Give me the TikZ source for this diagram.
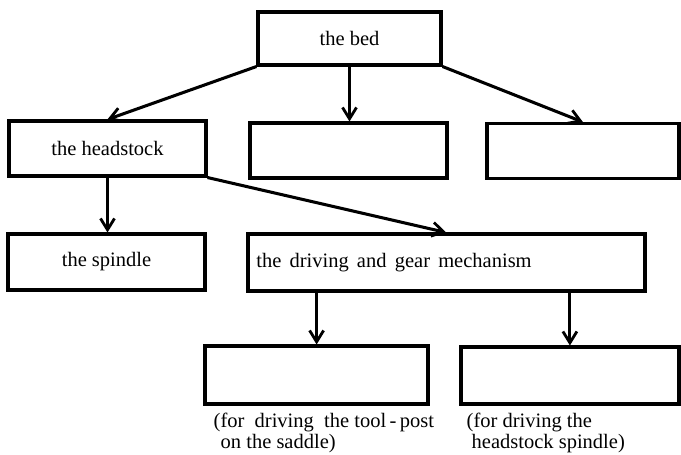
\documentclass[tikz,border=0pt]{standalone}
\usepackage{fontspec}
\setmainfont{Liberation Serif}
\usetikzlibrary{arrows.meta, positioning, calc}

\begin{document}
\begin{tikzpicture}[
  x=0.03cm, y=-0.03cm,
  box/.style={rectangle, draw, line width=2.6pt, minimum height=1.65cm,
              inner sep=0pt, font=\fontsize{17.5}{18}\selectfont},
  note/.style={inner sep=0pt, align=left, font=\fontsize{17.5}{18}\selectfont},
  arr/.style={-{Straight Barb[length=0.34cm, width=0.42cm, line width=2.4pt]},
              line width=2.6pt},
]
  \useasboundingbox (0,0) rectangle (681,454);

  % lathe parts
  \node[box, minimum width=5.49cm, minimum height=1.59cm] (bed)  at (349.5,38.5) {the bed};
  \node[box, minimum width=5.91cm] (head)  at (107.5,148.5) {the headstock};
  \node[box, minimum width=5.91cm] (part2) at (348.5,150.5) {};
  \node[box, minimum width=5.76cm] (part3) at (583,151) {};
  \node[box, minimum width=5.91cm, minimum height=1.68cm] (spindle) at (106.5,262) {the spindle};
  \node[box, minimum height=1.71cm, text width=11.41cm, inner xsep=0.25cm,
        align=left] (drive) at (446.5,262.5)
        {\spaceskip=0.4em the driving and gear mechanism};
  \node[box, minimum width=6.69cm, minimum height=1.74cm] (tool) at (316.5,375) {};
  \node[box, minimum width=6.54cm, minimum height=1.71cm] (hsdrive) at (570,375.5) {};

  \node[note, below right=0.21cm and 0.3cm of tool.south west]
    (toolnote) {(for\ \ driving\ \ the tool\,-\,post\\\hspace*{0.21cm}on the saddle)};
  \node[note, below right=0.21cm and 0.21cm of hsdrive.south west]
    (hsnote) {(for driving the\\\hspace*{0.15cm}headstock spindle)};

  \draw[arr] (bed.south west) -- ($(head.north)+(-0.13,0)$);
  \draw[arr] (bed.south) -- (bed.south |- part2.north);
  \draw[arr] (bed.south east) -- ($(part3.north)+(-0.15,0)$);
  \draw[arr] (head.south) -- (head.south |- spindle.north);
  \draw[arr] (head.south east) -- ($(drive.north)+(-0.44,0)$);
  \draw[arr] (tool.north |- drive.south) ++(0.1,0) coordinate (d1) -- (d1 |- tool.north);
  \draw[arr] (hsdrive.north |- drive.south) ++(-0.1,0) coordinate (d2) -- (d2 |- hsdrive.north);
\end{tikzpicture}
\end{document}
